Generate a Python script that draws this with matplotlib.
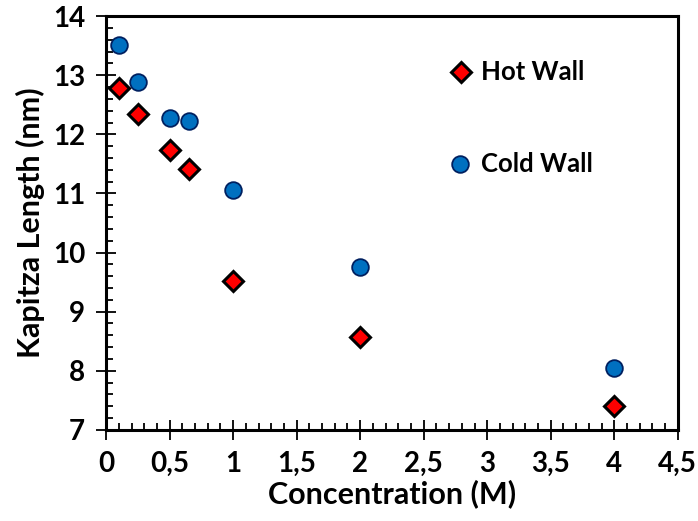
import matplotlib
matplotlib.use("Agg")
import matplotlib.pyplot as plt
from matplotlib.ticker import MultipleLocator, FuncFormatter

plt.rcParams['font.family'] = ['Lato', 'DejaVu Sans']
plt.rcParams['font.weight'] = 'bold'

# Kapitza length vs. salt concentration
conc = [0.1, 0.25, 0.5, 0.65, 1, 2, 4]
hot_wall = [12.78, 12.35, 11.73, 11.41, 9.52, 8.57, 7.40]
cold_wall = [13.51, 12.88, 12.28, 12.22, 11.05, 9.76, 8.05]

fig = plt.figure(figsize=(6.98, 5.21), dpi=100)
ax = fig.add_axes([0.152, 0.175, 0.819, 0.794])

ax.plot(conc, cold_wall, 'o', markersize=12, markerfacecolor='#0070C0',
        markeredgecolor='#002060', markeredgewidth=1.3, label='Cold Wall',
        zorder=3)
ax.plot(conc, hot_wall, 'D', markersize=10, markerfacecolor='#FF0000',
        markeredgecolor='black', markeredgewidth=2.2, label='Hot Wall',
        zorder=4)

ax.set_xlim(0, 4.5)
ax.set_ylim(7, 14)
ax.xaxis.set_major_locator(MultipleLocator(0.5))
ax.xaxis.set_minor_locator(MultipleLocator(0.1))
ax.yaxis.set_major_locator(MultipleLocator(1))
ax.yaxis.set_minor_locator(MultipleLocator(0.2))

# decimal comma on the x axis
ax.xaxis.set_major_formatter(FuncFormatter(lambda v, p: f"{v:g}".replace('.', ',')))

ax.tick_params(which='major', direction='inout', length=14, width=1.3,
               labelsize=20, pad=8)
ax.tick_params(which='minor', direction='in', length=5, width=1.3)
ax.tick_params(top=False, right=False, which='both')

for sp in ax.spines.values():
    sp.set_linewidth(2.2)

ax.set_xlabel('Concentration (M)', fontsize=22, fontweight='bold', labelpad=2)
ax.set_ylabel('Kapitza Length (nm)', fontsize=22, fontweight='bold', labelpad=6)

# legend entries placed inside the plot area
ax.plot([2.79], [13.06], 'D', markersize=10, markerfacecolor='#FF0000',
        markeredgecolor='black', markeredgewidth=2.2)
ax.text(2.95, 13.06, 'Hot Wall', fontsize=18.5, fontweight='bold', va='center')
ax.plot([2.785], [11.5], 'o', markersize=12, markerfacecolor='#0070C0',
        markeredgecolor='#002060', markeredgewidth=1.3)
ax.text(2.95, 11.5, 'Cold Wall', fontsize=18.5, fontweight='bold', va='center')

fig.savefig('out.png', dpi=100)
